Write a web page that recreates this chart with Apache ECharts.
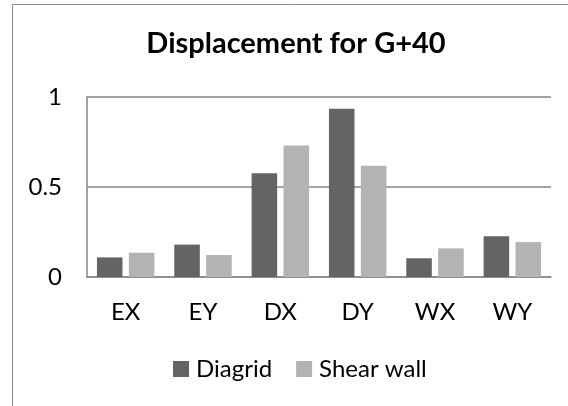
<!DOCTYPE html>
<html>
<head>
<meta charset="utf-8">
<script src="https://cdn.jsdelivr.net/npm/echarts@6/dist/echarts.min.js"></script>
<style>
html,body{margin:0;padding:0;background:#fff;}
#chart{width:568px;height:406px;}
</style>
</head>
<body>
<div id="chart"></div>
<script>
const categories = ['EX', 'EY', 'DX', 'DY', 'WX', 'WY'];
const diagrid = [0.109, 0.180, 0.576, 0.935, 0.104, 0.226];
const shearWall = [0.135, 0.122, 0.730, 0.618, 0.159, 0.194];
const seriesNames = ['Diagrid', 'Shear wall'];
const yTicks = { min: 0, max: 1, interval: 0.5 };
const titleText = 'Displacement for G+40';

const FONT = 'Lato';
const chart = echarts.init(document.getElementById('chart'), null, { renderer: 'canvas' });
chart.setOption({
  animation: false,
  backgroundColor: '#ffffff',
  title: {
    text: titleText,
    left: 296,
    textAlign: 'center',
    top: 29,
    padding: 0,
    textStyle: { fontFamily: FONT, fontWeight: 'bold', fontSize: 29, color: '#000000' }
  },
  graphic: [{
    type: 'rect',
    shape: { x: 12.5, y: 4.5, width: 700, height: 600 },
    style: { fill: 'none', stroke: '#8c8c8c', lineWidth: 1 },
    silent: true
  }],
  legend: {
    data: seriesNames,
    left: 173,
    top: 357,
    padding: 0,
    itemWidth: 16,
    itemHeight: 16,
    itemGap: 24,
    icon: 'rect',
    textStyle: { fontFamily: FONT, fontSize: 24, color: '#000000', padding: [0, 0, 0, 2] }
  },
  grid: { left: 87, right: 17, top: 97, bottom: 129, containLabel: false },
  xAxis: {
    type: 'category',
    data: categories,
    axisLine: { show: true, lineStyle: { color: '#868686', width: 1.5 } },
    axisTick: { show: false },
    axisLabel: { fontFamily: FONT, fontSize: 24, color: '#000000', margin: 23 },
    splitLine: { show: false }
  },
  yAxis: {
    type: 'value',
    min: yTicks.min,
    max: yTicks.max,
    interval: yTicks.interval,
    axisLine: { show: true, lineStyle: { color: '#868686', width: 1.5 } },
    axisTick: { show: false },
    axisLabel: { fontFamily: FONT, fontSize: 24, color: '#000000', margin: 25 },
    splitLine: { show: true, lineStyle: { color: '#868686', width: 1.5 } }
  },
  series: [
    { name: seriesNames[0], type: 'bar', data: diagrid, barWidth: '33%', barGap: '25%',
      itemStyle: { color: '#646464' } },
    { name: seriesNames[1], type: 'bar', data: shearWall, barWidth: '33%', barGap: '25%',
      itemStyle: { color: '#b3b3b3' } }
  ]
});
</script>
</body>
</html>
